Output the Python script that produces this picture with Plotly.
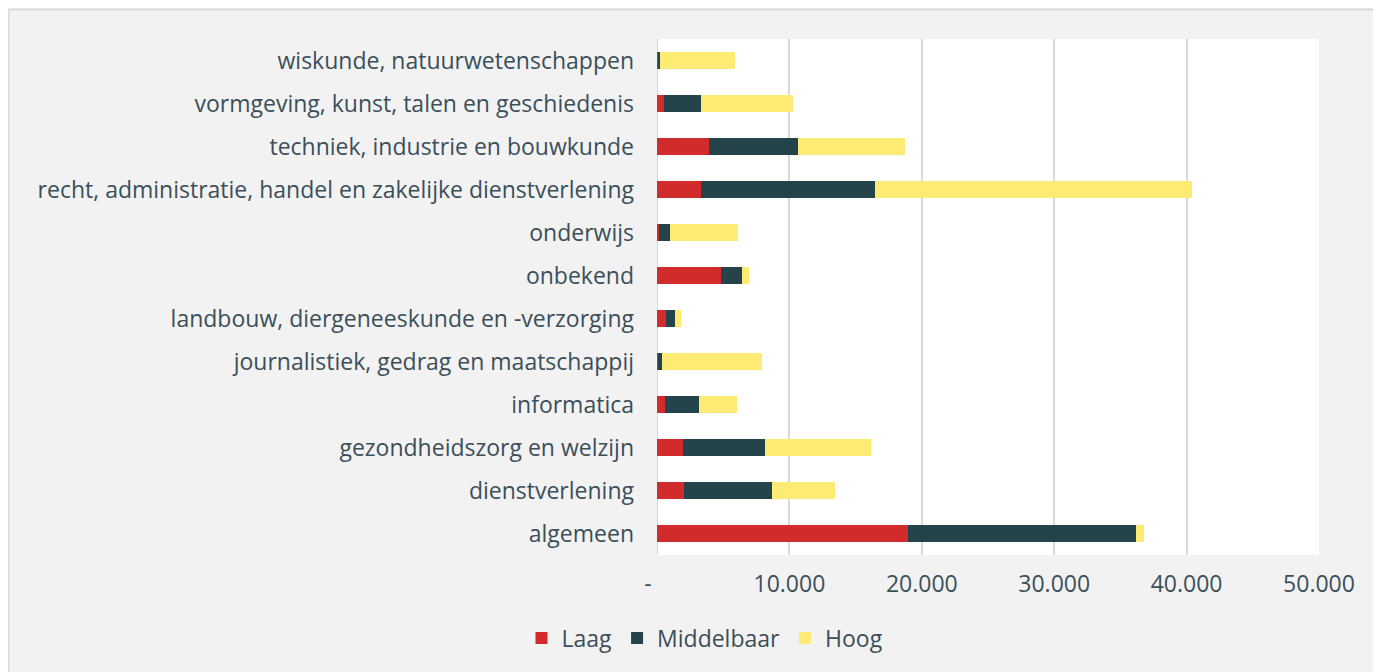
import plotly.graph_objects as go

categories = [
    "algemeen",
    "dienstverlening",
    "gezondheidszorg en welzijn",
    "informatica",
    "journalistiek, gedrag en maatschappij",
    "landbouw, diergeneeskunde en -verzorging",
    "onbekend",
    "onderwijs",
    "recht, administratie, handel en zakelijke dienstverlening",
    "techniek, industrie en bouwkunde",
    "vormgeving, kunst, talen en geschiedenis",
    "wiskunde, natuurwetenschappen",
]
laag = [18985, 2040, 1990, 600, 50, 680, 4860, 180, 3300, 3930, 530, 150]
middelbaar = [17225, 6670, 6140, 2600, 350, 660, 1540, 780, 13200, 6720, 2790, 60]
hoog = [550, 4710, 8010, 2870, 7510, 450, 580, 5160, 23890, 8060, 6980, 5660]

tick_vals = [0, 10000, 20000, 30000, 40000, 50000]
tick_text = ["-\u00a0\u00a0\u00a0", "10.000", "20.000", "30.000", "40.000", "50.000"]

series = [("Laag", laag, "#d22b2b"), ("Middelbaar", middelbaar, "#25434a"), ("Hoog", hoog, "#fdeb73")]

FONT = "Open Sans"
FS = 23
TXT = "#3b4f59"

fig = go.Figure()
for name, vals, col in series:
    fig.add_trace(go.Bar(
        y=categories, x=vals, name=name, orientation="h",
        marker=dict(color=col, line=dict(width=0)),
    ))

# page body has an 8px margin; figure coordinates are page coordinates minus 8
OFF = 8
W, H = 1381 - OFF, 672 - OFF
L, T = 657 - OFF, 39 - OFF
pw, ph = 662, 516
R, B = W - L - pw, H - T - ph

def px_x(p):
    return (p - OFF - L) / pw

def px_y(p):
    return (H - B - (p - OFF)) / ph

fig.update_layout(
    width=W, height=H,
    barmode="stack", bargap=0.6,
    paper_bgcolor="#f2f2f2", plot_bgcolor="white",
    margin=dict(l=L, r=R, t=T, b=B, autoexpand=False),
    font=dict(family=FONT, size=FS, color=TXT),
    showlegend=True,
    legend=dict(orientation="h", x=px_x(705), y=px_y(638), xanchor="center", yanchor="middle",
                font=dict(family=FONT, size=FS, color=TXT), traceorder="normal",
                bgcolor="rgba(0,0,0,0)"),
    xaxis=dict(range=[0, 50000], tickvals=tick_vals, ticktext=tick_text,
               showgrid=True, gridcolor="#d9d9d9", gridwidth=1.5,
               zeroline=False, showline=False, ticks="", ticklabelstandoff=13,
               tickfont=dict(family=FONT, size=FS, color=TXT), fixedrange=True),
    yaxis=dict(showgrid=False, zeroline=False, showline=False, ticks="",
               ticklabelstandoff=22, tickfont=dict(family=FONT, size=FS, color=TXT),
               categoryorder="array", categoryarray=categories),
    shapes=[
        dict(type="line", xref="paper", yref="paper", x0=px_x(8.5), x1=px_x(1390),
             y0=px_y(9.5), y1=px_y(9.5), line=dict(color="#d9d9d9", width=2), layer="above"),
        dict(type="line", xref="paper", yref="paper", x0=px_x(8.5), x1=px_x(8.5),
             y0=px_y(9.5), y1=px_y(680), line=dict(color="#d9d9d9", width=2), layer="above"),
        dict(type="line", xref="x", yref="paper", x0=0, x1=0, y0=0, y1=1,
             line=dict(color="#d9d9d9", width=2), layer="below"),
    ],
)

fig.write_html("out.html")
